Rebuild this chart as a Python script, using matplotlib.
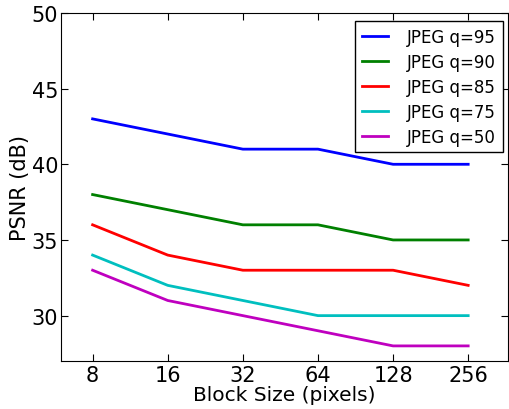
import matplotlib
matplotlib.use('Agg')
import matplotlib.pyplot as plt
from matplotlib.ticker import FixedLocator, NullLocator

block_sizes = [8, 16, 32, 64, 128, 256]
q95 = [43, 42, 41, 41, 40, 40]
q90 = [38, 37, 36, 36, 35, 35]
q85 = [36, 34, 33, 33, 33, 32]
q75 = [34, 32, 31, 30, 30, 30]
q50 = [33, 31, 30, 29, 28, 28]

series = [
    ('JPEG q=95', q95, (0, 0, 1)),
    ('JPEG q=90', q90, (0, 0.5, 0)),
    ('JPEG q=85', q85, (1, 0, 0)),
    ('JPEG q=75', q75, (0, 0.75, 0.75)),
    ('JPEG q=50', q50, (0.75, 0, 0.75)),
]

fig = plt.figure(figsize=(5.09, 4.10), dpi=100)
ax = fig.add_axes([0.12, 0.117, 0.878, 0.849])

for label, vals, color in series:
    ax.plot(block_sizes, vals, color=color, lw=2, label=label)

ax.set_xscale('log', base=2)
ax.xaxis.set_major_locator(FixedLocator(block_sizes))
ax.xaxis.set_minor_locator(NullLocator())
ax.set_xticklabels([str(b) for b in block_sizes])
ax.set_xlim(2 ** 2.58, 2 ** 8.53)
ax.set_ylim(27, 50)
ax.set_yticks([30, 35, 40, 45, 50])

ax.tick_params(direction='in', top=True, right=True, labelsize=15, length=5)
ax.tick_params(axis='x', pad=3)
ax.tick_params(axis='y', pad=2)
ax.set_xlabel('Block Size (pixels)', fontsize=14.5, labelpad=0)
ax.set_ylabel('PSNR (dB)', fontsize=15, labelpad=1)

leg = ax.legend(loc='upper right', fontsize=12, fancybox=False, framealpha=1,
                handlelength=1.55, handletextpad=1.15, labelspacing=0.42,
                borderpad=0.4, borderaxespad=0, bbox_to_anchor=(0.988, 0.977))
leg.get_frame().set_edgecolor('black')

fig.savefig('out.png', dpi=100)
